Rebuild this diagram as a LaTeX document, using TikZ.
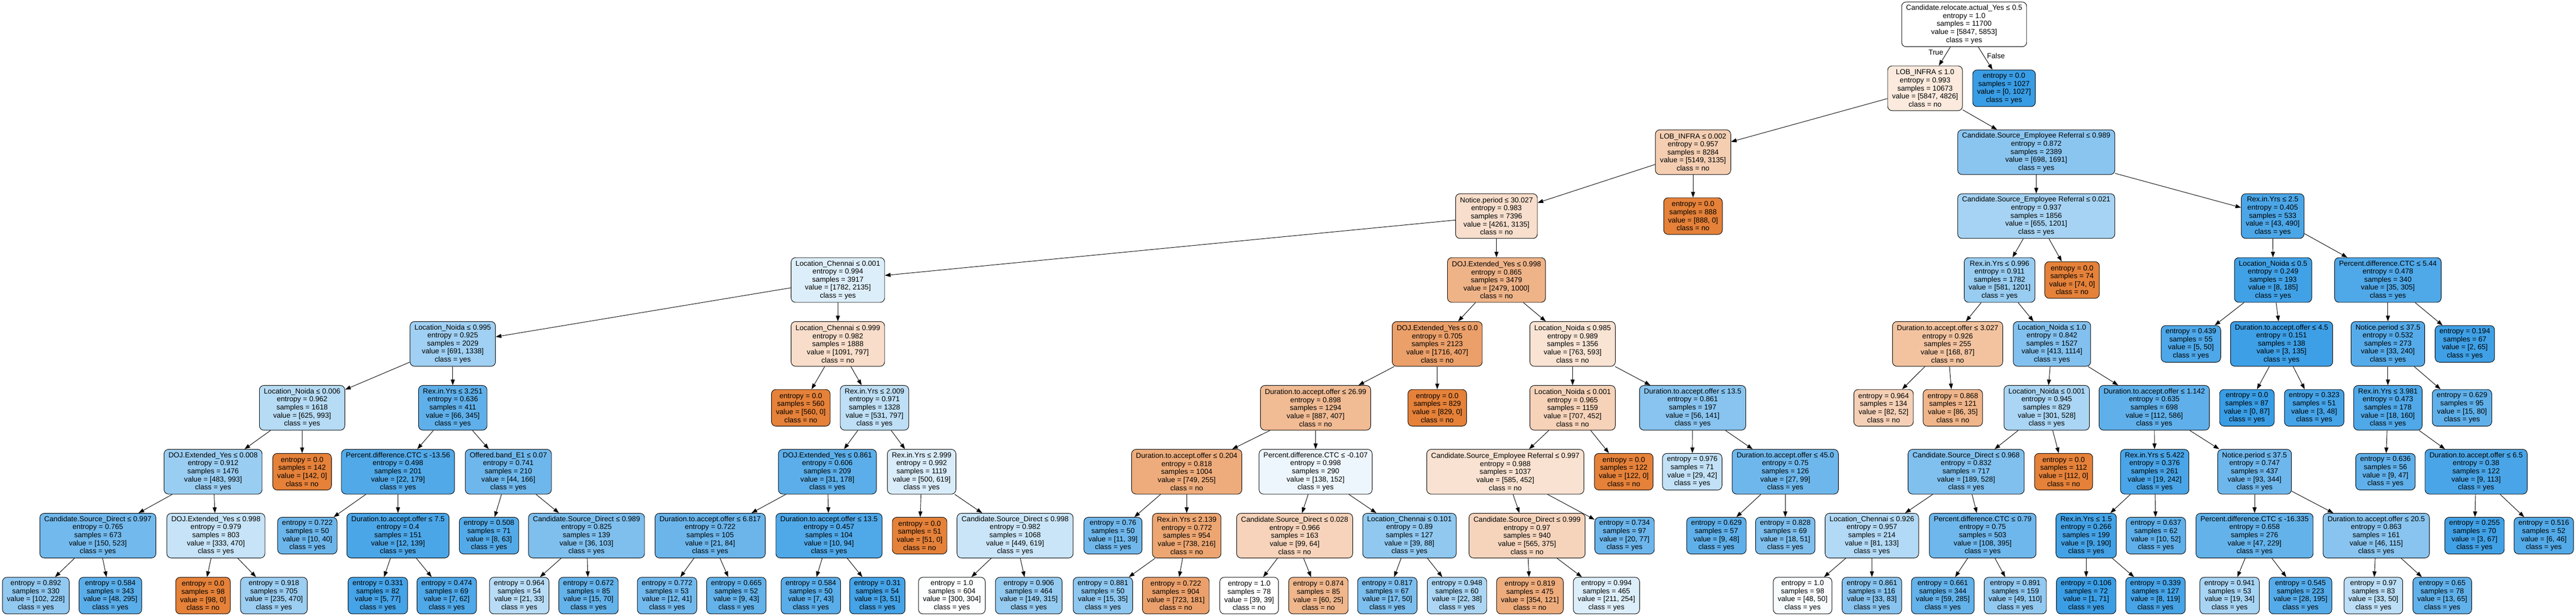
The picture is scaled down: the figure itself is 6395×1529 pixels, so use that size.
\documentclass[tikz,border=0pt]{standalone}
\usepackage{fontspec}
\setmainfont{Liberation Sans}
\usepackage{tikz}
\usetikzlibrary{arrows.meta}
\definecolor{cno}{RGB}{229,129,57}
\definecolor{cyes}{RGB}{57,157,229}
\def\nodefill#1#2#3{%
	\ifnum#2<#3\relax
		\pgfmathtruncatemacro\fillpct{round((#3-#2)/#3*100)}%
		\colorlet{fill#1}{cyes!\fillpct!white}\def\nodeclass{yes}%
	\else
		\pgfmathtruncatemacro\fillpct{round((#2-#3)/#2*100)}%
		\colorlet{fill#1}{cno!\fillpct!white}\def\nodeclass{no}%
	\fi}
\def\splitnode(#1)(#2:#3)#4#5#6#7#8{%
	\nodefill{#1}{#7}{#8}%
	\node[testbox, fill=fill#1] (#1) at (#2, {60.5+158.7*#3}) {#4\\entropy = #5\\samples = #6\\value = [#7, #8]\\class = \nodeclass};}
\def\leafnode(#1)(#2:#3)#4#5#6#7{%
	\nodefill{#1}{#6}{#7}%
	\pgfmathsetmacro\leafy{#3<9 ? 60.5+158.7*#3 : 1479}%
	\node[leafbox, fill=fill#1] (#1) at (#2, \leafy) {entropy = #4\\samples = #5\\value = [#6, #7]\\class = \nodeclass};}

\begin{document}
\begin{tikzpicture}[x=1pt, y=-1pt,
		testbox/.style={draw, line width=1.2pt, rounded corners=11pt, align=center, inner xsep=11pt, inner ysep=0pt, minimum height=111pt, font=\fontsize{18}{20}\selectfont},
		leafbox/.style={testbox, minimum height=91pt},
		treeedge/.style={line width=1.2pt, -{Triangle[length=14pt, width=10pt]}},
		edgelabel/.style={font=\fontsize{18}{20}\selectfont, inner sep=0pt}]
			%%%%% START %%%%%
			
			\fill[white] (0,0) rectangle (6395,1529);
			
			%%%%% depth 0 - 3
			\splitnode(root)(4876:0){Candidate.relocate.actual\_Yes ≤ 0.5}{1.0}{11700}{5847}{5853}
			\splitnode(lobA)(4779:1){LOB\_INFRA ≤ 1.0}{0.993}{10673}{5847}{4826}
			\leafnode(lf1)(4975:1){0.0}{1027}{0}{1027}
			\splitnode(lobB)(4203:2){LOB\_INFRA ≤ 0.002}{0.957}{8284}{5149}{3135}
			\splitnode(cserA)(5055:2){Candidate.Source\_Employee Referral ≤ 0.989}{0.872}{2389}{698}{1691}
			\splitnode(npA)(3715:3){Notice.period ≤ 30.027}{0.983}{7396}{4261}{3135}
			\leafnode(lf2)(4203:3){0.0}{888}{888}{0}
			\splitnode(cserB)(5055:3){Candidate.Source\_Employee Referral ≤ 0.021}{0.937}{1856}{655}{1201}
			\splitnode(rexA)(5642:3){Rex.in.Yrs ≤ 2.5}{0.405}{533}{43}{490}
			
			%%%%% depth 4
			\splitnode(lcA)(2080:4){Location\_Chennai ≤ 0.001}{0.994}{3917}{1782}{2135}
			\splitnode(dojA)(3715:4){DOJ.Extended\_Yes ≤ 0.998}{0.865}{3479}{2479}{1000}
			\splitnode(rexB)(4964:4){Rex.in.Yrs ≤ 0.996}{0.911}{1782}{581}{1201}
			\leafnode(lf37)(5144:4){0.0}{74}{74}{0}
			\splitnode(lnA)(5643:4){Location\_Noida ≤ 0.5}{0.249}{193}{8}{185}
			\splitnode(pdA)(5928:4){Percent.difference.CTC ≤ 5.44}{0.478}{340}{35}{305}
			
			%%%%% depth 5
			\splitnode(lnB)(1124:5){Location\_Noida ≤ 0.995}{0.925}{2029}{691}{1338}
			\splitnode(lcB)(2080:5){Location\_Chennai ≤ 0.999}{0.982}{1888}{1091}{797}
			\splitnode(dojB)(3568:5){DOJ.Extended\_Yes ≤ 0.0}{0.705}{2123}{1716}{407}
			\splitnode(lnC)(3904:5){Location\_Noida ≤ 0.985}{0.989}{1356}{763}{593}
			\splitnode(daA)(4835:5){Duration.to.accept.offer ≤ 3.027}{0.926}{255}{168}{87}
			\splitnode(lnD)(5094:5){Location\_Noida ≤ 1.0}{0.842}{1527}{413}{1114}
			\leafnode(lf52)(5439:5){0.439}{55}{5}{50}
			\splitnode(daB)(5664:5){Duration.to.accept.offer ≤ 4.5}{0.151}{138}{3}{135}
			\splitnode(npB)(5928:5){Notice.period ≤ 37.5}{0.532}{273}{33}{240}
			\leafnode(lf55)(6119:5){0.194}{67}{2}{65}
			
			%%%%% depth 6
			\splitnode(lnE)(750:6){Location\_Noida ≤ 0.006}{0.962}{1618}{625}{993}
			\splitnode(rexC)(1124:6){Rex.in.Yrs ≤ 3.251}{0.636}{411}{66}{345}
			\leafnode(lf14)(1988:6){0.0}{560}{560}{0}
			\splitnode(rexD)(2171:6){Rex.in.Yrs ≤ 2.009}{0.971}{1328}{531}{797}
			\splitnode(daC)(3266:6){Duration.to.accept.offer ≤ 26.99}{0.898}{1294}{887}{407}
			\leafnode(lf22)(3568:6){0.0}{829}{829}{0}
			\splitnode(lnF)(3904:6){Location\_Noida ≤ 0.001}{0.965}{1159}{707}{452}
			\splitnode(daD)(4202:6){Duration.to.accept.offer ≤ 13.5}{0.861}{197}{56}{141}
			\leafnode(lf38)(4676:6){0.964}{134}{82}{52}
			\leafnode(lf39)(4848:6){0.868}{121}{86}{35}
			\splitnode(lnG)(5081:6){Location\_Noida ≤ 0.001}{0.945}{829}{301}{528}
			\splitnode(daE)(5348:6){Duration.to.accept.offer ≤ 1.142}{0.635}{698}{112}{586}
			\leafnode(lf53)(5578:6){0.0}{87}{0}{87}
			\leafnode(lf54)(5745:6){0.323}{51}{3}{48}
			\splitnode(rexE)(5928:6){Rex.in.Yrs ≤ 3.981}{0.473}{178}{18}{160}
			\leafnode(lf56)(6112:6){0.629}{95}{15}{80}
			
			%%%%% depth 7
			\splitnode(dojC)(529:7){DOJ.Extended\_Yes ≤ 0.008}{0.912}{1476}{483}{993}
			\leafnode(lf3)(750:7){0.0}{142}{142}{0}
			\splitnode(pdB)(988:7){Percent.difference.CTC ≤ -13.56}{0.498}{201}{22}{179}
			\splitnode(obA)(1262:7){Offered.band\_E1 ≤ 0.07}{0.741}{210}{44}{166}
			\splitnode(dojD)(2054:7){DOJ.Extended\_Yes ≤ 0.861}{0.606}{209}{31}{178}
			\splitnode(rexF)(2288:7){Rex.in.Yrs ≤ 2.999}{0.992}{1119}{500}{619}
			\splitnode(daF)(2946:7){Duration.to.accept.offer ≤ 0.204}{0.818}{1004}{749}{255}
			\splitnode(pdC)(3266:7){Percent.difference.CTC ≤ -0.107}{0.998}{290}{138}{152}
			\splitnode(cserC)(3737:7){Candidate.Source\_Employee Referral ≤ 0.997}{0.988}{1037}{585}{452}
			\leafnode(lf30)(4031:7){0.0}{122}{122}{0}
			\leafnode(lf34)(4201:7){0.976}{71}{29}{42}
			\splitnode(daG)(4432:7){Duration.to.accept.offer ≤ 45.0}{0.75}{126}{27}{99}
			\splitnode(csdA)(4881:7){Candidate.Source\_Direct ≤ 0.968}{0.832}{717}{189}{528}
			\leafnode(lf40)(5123:7){0.0}{112}{112}{0}
			\splitnode(rexG)(5349:7){Rex.in.Yrs ≤ 5.422}{0.376}{261}{19}{242}
			\splitnode(npC)(5597:7){Notice.period ≤ 37.5}{0.747}{437}{93}{344}
			\leafnode(lf57)(5922:7){0.636}{56}{9}{47}
			\splitnode(daH)(6147:7){Duration.to.accept.offer ≤ 6.5}{0.38}{122}{9}{113}
			
			%%%%% depth 8
			\splitnode(csdB)(243:8){Candidate.Source\_Direct ≤ 0.997}{0.765}{673}{150}{523}
			\splitnode(dojE)(536:8){DOJ.Extended\_Yes ≤ 0.998}{0.979}{803}{333}{470}
			\leafnode(lf8)(763:8){0.722}{50}{10}{40}
			\splitnode(daI)(988:8){Duration.to.accept.offer ≤ 7.5}{0.4}{151}{12}{139}
			\leafnode(lf11)(1214:8){0.508}{71}{8}{63}
			\splitnode(csdC)(1456:8){Candidate.Source\_Direct ≤ 0.989}{0.825}{139}{36}{103}
			\splitnode(daJ)(1763:8){Duration.to.accept.offer ≤ 6.817}{0.722}{105}{21}{84}
			\splitnode(daK)(2058:8){Duration.to.accept.offer ≤ 13.5}{0.457}{104}{10}{94}
			\leafnode(lf19)(2283:8){0.0}{51}{51}{0}
			\splitnode(csdD)(2520:8){Candidate.Source\_Direct ≤ 0.998}{0.982}{1068}{449}{619}
			\leafnode(lf23)(2763:8){0.76}{50}{11}{39}
			\splitnode(rexH)(2946:8){Rex.in.Yrs ≤ 2.139}{0.772}{954}{738}{216}
			\splitnode(csdE)(3214:8){Candidate.Source\_Direct ≤ 0.028}{0.966}{163}{99}{64}
			\splitnode(lcC)(3499:8){Location\_Chennai ≤ 0.101}{0.89}{127}{39}{88}
			\splitnode(csdF)(3791:8){Candidate.Source\_Direct ≤ 0.999}{0.97}{940}{565}{375}
			\leafnode(lf31)(4033:8){0.734}{97}{20}{77}
			\leafnode(lf35)(4261:8){0.629}{57}{9}{48}
			\leafnode(lf36)(4432:8){0.828}{69}{18}{51}
			\splitnode(lcD)(4647:8){Location\_Chennai ≤ 0.926}{0.957}{214}{81}{133}
			\splitnode(pdD)(4922:8){Percent.difference.CTC ≤ 0.79}{0.75}{503}{108}{395}
			\splitnode(rexI)(5179:8){Rex.in.Yrs ≤ 1.5}{0.266}{199}{9}{190}
			\leafnode(lf45)(5352:8){0.637}{62}{10}{52}
			\splitnode(pdE)(5597:8){Percent.difference.CTC ≤ -16.335}{0.658}{276}{47}{229}
			\splitnode(daL)(5899:8){Duration.to.accept.offer ≤ 20.5}{0.863}{161}{46}{115}
			\leafnode(lf58)(6143:8){0.255}{70}{3}{67}
			\leafnode(lf59)(6315:8){0.516}{52}{6}{46}
			
			%%%%% depth 9
			\leafnode(lf4)(89:9){0.892}{330}{102}{228}
			\leafnode(lf5)(274:9){0.584}{343}{48}{295}
			\leafnode(lf6)(504:9){0.0}{98}{98}{0}
			\leafnode(lf7)(680:9){0.918}{705}{235}{470}
			\leafnode(lf9)(938:9){0.331}{82}{5}{77}
			\leafnode(lf10)(1109:9){0.474}{69}{7}{62}
			\leafnode(lf12)(1289:9){0.964}{54}{21}{33}
			\leafnode(lf13)(1461:9){0.672}{85}{15}{70}
			\leafnode(lf15)(1656:9){0.772}{53}{12}{41}
			\leafnode(lf16)(1828:9){0.665}{52}{9}{43}
			\leafnode(lf17)(2013:9){0.584}{50}{7}{43}
			\leafnode(lf18)(2178:9){0.31}{54}{3}{51}
			\leafnode(lf20)(2363:9){1.0}{604}{300}{304}
			\leafnode(lf21)(2554:9){0.906}{464}{149}{315}
			\leafnode(lf24)(2738:9){0.881}{50}{15}{35}
			\leafnode(lf25)(2919:9){0.722}{904}{723}{181}
			\leafnode(lf26)(3101:9){1.0}{78}{39}{39}
			\leafnode(lf27)(3273:9){0.874}{85}{60}{25}
			\leafnode(lf28)(3444:9){0.817}{67}{17}{50}
			\leafnode(lf29)(3617:9){0.948}{60}{22}{38}
			\leafnode(lf32)(3798:9){0.819}{475}{354}{121}
			\leafnode(lf33)(3988:9){0.994}{465}{211}{254}
			\leafnode(lf41)(4475:9){1.0}{98}{48}{50}
			\leafnode(lf42)(4647:9){0.861}{116}{33}{83}
			\leafnode(lf43)(4823:9){0.661}{344}{59}{285}
			\leafnode(lf44)(5003:9){0.891}{159}{49}{110}
			\leafnode(lf46)(5179:9){0.106}{72}{1}{71}
			\leafnode(lf47)(5351:9){0.339}{127}{8}{119}
			\leafnode(lf48)(5535:9){0.941}{53}{19}{34}
			\leafnode(lf49)(5711:9){0.545}{223}{28}{195}
			\leafnode(lf50)(5892:9){0.97}{83}{33}{50}
			\leafnode(lf51)(6063:9){0.65}{78}{13}{65}
			
			%%%%% edges
			\foreach \from/\to in {root/lobA, root/lf1, lobA/lobB, lobA/cserA, lobB/npA, lobB/lf2,
				npA/lcA, npA/dojA, lcA/lnB, lcA/lcB, lnB/lnE, lnB/rexC, lnE/dojC, lnE/lf3,
				dojC/csdB, dojC/dojE, csdB/lf4, csdB/lf5, dojE/lf6, dojE/lf7,
				rexC/pdB, rexC/obA, pdB/lf8, pdB/daI, daI/lf9, daI/lf10, obA/lf11, obA/csdC, csdC/lf12, csdC/lf13,
				lcB/lf14, lcB/rexD, rexD/dojD, rexD/rexF, dojD/daJ, dojD/daK, daJ/lf15, daJ/lf16, daK/lf17, daK/lf18,
				rexF/lf19, rexF/csdD, csdD/lf20, csdD/lf21,
				dojA/dojB, dojA/lnC, dojB/daC, dojB/lf22, daC/daF, daC/pdC, daF/lf23, daF/rexH, rexH/lf24, rexH/lf25,
				pdC/csdE, pdC/lcC, csdE/lf26, csdE/lf27, lcC/lf28, lcC/lf29,
				lnC/lnF, lnC/daD, lnF/cserC, lnF/lf30, cserC/csdF, cserC/lf31, csdF/lf32, csdF/lf33,
				daD/lf34, daD/daG, daG/lf35, daG/lf36,
				cserA/cserB, cserA/rexA, cserB/rexB, cserB/lf37, rexB/daA, rexB/lnD, daA/lf38, daA/lf39,
				lnD/lnG, lnD/daE, lnG/csdA, lnG/lf40, csdA/lcD, csdA/pdD, lcD/lf41, lcD/lf42, pdD/lf43, pdD/lf44,
				daE/rexG, daE/npC, rexG/rexI, rexG/lf45, rexI/lf46, rexI/lf47, npC/pdE, npC/daL,
				pdE/lf48, pdE/lf49, daL/lf50, daL/lf51,
				rexA/lnA, rexA/pdA, lnA/lf52, lnA/daB, daB/lf53, daB/lf54, pdA/npB, pdA/lf55,
				npB/rexE, npB/lf56, rexE/lf57, rexE/daH, daH/lf58, daH/lf59}
				\draw[treeedge] (\from) -- (\to);
			
			\node[edgelabel] (truelbl) at (4806, 130) {True};
			\node[edgelabel] (falselbl) at (4955, 139) {False};
			
			%%%%% END %%%%%
\end{tikzpicture}
\end{document}
